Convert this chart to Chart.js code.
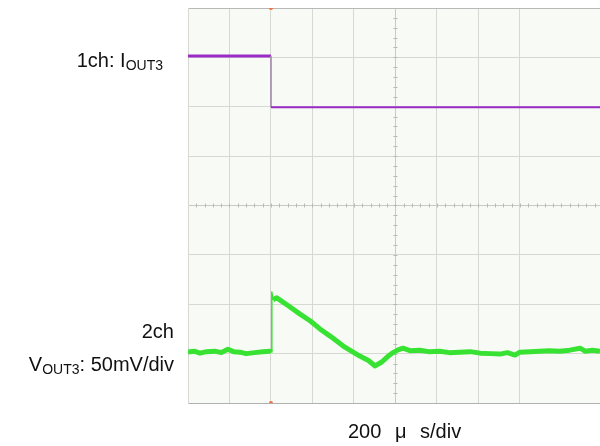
<!DOCTYPE html>
<html>
<head>
<meta charset="utf-8">
<script src="https://cdn.jsdelivr.net/npm/chart.js@4.4.1/dist/chart.umd.min.js"></script>
<style>
  html, body { margin: 0; padding: 0; background: #fff; overflow: hidden; }
  #wrap { position: relative; width: 600px; height: 446px; overflow: hidden; }
  .lbl { position: absolute; font-family: "Liberation Sans", Arial, sans-serif; font-size: 20px; color: #111; white-space: nowrap; line-height: 22px; }
  .lbl sub { font-size: 14px; vertical-align: -3px; line-height: 0; }
</style>
</head>
<body>
<div id="wrap">
  <canvas id="scope" width="604" height="446"></canvas>
  <div class="lbl" style="right:437px; top:49px;">1ch: I<sub>OUT3</sub></div>
  <div class="lbl" style="right:426px; top:320px;">2ch</div>
  <div class="lbl" style="right:426px; top:353px;">V<sub>OUT3</sub>: 50mV/div</div>
  <div class="lbl" style="left:348px; top:420px; word-spacing:8px;">200 μ s/div</div>
</div>
<script>
// time in divisions (200us/div), amplitude in divisions
var ch1X = [0, 2.0, 2.0, 9.93];
var ch1Y = [7.03, 7.03, 5.99, 5.99];

var ch2X = [0, 0.15, 0.29, 0.45, 0.65, 0.8, 0.96, 1.1, 1.25, 1.4, 1.61, 1.8, 1.98, 2.01, 2.02, 2.05, 2.14, 2.40, 2.70, 2.95, 3.18, 3.45, 3.78, 4.14, 4.35, 4.51, 4.67, 4.80, 4.92, 5.05, 5.18, 5.35, 5.59, 5.80, 6.07, 6.30, 6.55, 6.80, 7.04, 7.30, 7.52, 7.70, 7.88, 8.0, 8.25, 8.48, 8.70, 8.96, 9.2, 9.45, 9.57, 9.75, 9.93];
var ch2Y = [1.03, 1.05, 1.01, 1.04, 1.05, 1.02, 1.09, 1.04, 1.03, 1.00, 1.02, 1.04, 1.05, 1.03, 2.25, 2.09, 2.13, 1.98, 1.80, 1.66, 1.50, 1.34, 1.13, 0.95, 0.86, 0.75, 0.83, 0.93, 1.01, 1.07, 1.11, 1.06, 1.07, 1.04, 1.05, 1.02, 1.03, 1.04, 1.01, 1.00, 0.99, 1.02, 0.97, 1.03, 1.04, 1.05, 1.06, 1.05, 1.07, 1.11, 1.05, 1.07, 1.05];

var trigX = [2.0, 2.0];
var trigY = [8, 0];

function toPoints(xs, ys){
    var pts = [];
    for(var i=0; i<xs.length; i++){
        pts.push({x: xs[i], y: ys[i]});
    }
    return pts;
}

var screenBg = {
    id: "screenBg",
    beforeDraw: function(chart){
        var a = chart.chartArea;
        var ctx = chart.ctx;
        ctx.save();
        ctx.fillStyle = "#f8fbf5";
        ctx.fillRect(a.left, a.top, a.right - a.left, a.bottom - a.top);
        ctx.restore();
    },
    // small tick marks on the centre cross, every 0.2 div
    beforeDatasetsDraw: function(chart){
        var xs = chart.scales.x, ys = chart.scales.y;
        var ctx = chart.ctx;
        var cx = xs.getPixelForValue(5), cy = ys.getPixelForValue(4);
        ctx.save();
        ctx.strokeStyle = "#b8bab4";
        ctx.lineWidth = 1;
        ctx.beginPath();
        for(var v=0.2; v<8; v+=0.2){
            var py = Math.round(ys.getPixelForValue(v)) + 0.5;
            ctx.moveTo(cx - 2, py); ctx.lineTo(cx + 2, py);
        }
        for(var h=0.2; h<10; h+=0.2){
            var px = Math.round(xs.getPixelForValue(h)) + 0.5;
            ctx.moveTo(px, cy - 2); ctx.lineTo(px, cy + 2);
        }
        ctx.stroke();
        ctx.restore();
    }
};

new Chart(document.getElementById("scope"), {
    type: "scatter",
    data: {
        datasets: [
            {
                label: "2ch",
                data: toPoints(ch2X, ch2Y),
                showLine: true,
                borderColor: "#38e232",
                borderWidth: 5,
                pointRadius: 0,
                tension: 0,
                borderJoinStyle: "round",
                segment: {
                    borderWidth: function(ctx){ return (ctx.p0DataIndex == 13 || ctx.p0DataIndex == 14) ? 1.5 : 5; }
                }
            },
            {
                label: "1ch",
                data: toPoints(ch1X, ch1Y),
                showLine: true,
                borderColor: "#9a2cc6",
                borderWidth: 2,
                pointRadius: 0,
                tension: 0,
                segment: {
                    borderWidth: function(ctx){ return ctx.p0DataIndex == 0 ? 3 : (ctx.p0DataIndex == 1 ? 1 : 2); },
                    borderColor: function(ctx){ return ctx.p0DataIndex == 1 ? "#a890b0" : "#9a2cc6"; }
                }
            },
            {
                label: "trig",
                data: toPoints(trigX, trigY),
                showLine: false,
                pointRadius: 2,
                pointBackgroundColor: "#f07040",
                pointBorderWidth: 0
            }
        ]
    },
    options: {
        responsive: false,
        animation: false,
        layout: {
            padding: {left: 188, top: 8, right: 0, bottom: 43}
        },
        plugins: {
            legend: {display: false},
            tooltip: {enabled: false}
        },
        scales: {
            x: {
                type: "linear",
                min: 0,
                max: 9.93,
                ticks: {display: false, stepSize: 1},
                border: {display: true, color: "#b0b0b0"},
                grid: {
                    drawTicks: false,
                    color: function(ctx){ return ctx.tick && ctx.tick.value == 5 ? "#c8cac4" : "#d6d8d2"; }
                }
            },
            y: {
                type: "linear",
                min: 0,
                max: 8,
                ticks: {display: false, stepSize: 1},
                border: {display: true, color: "#d6d8d2"},
                grid: {
                    drawTicks: false,
                    color: function(ctx){
                        if(ctx.tick && ctx.tick.value == 8) return "#b8b8b8";
                        if(ctx.tick && ctx.tick.value == 0) return "#b0b0b0";
                        return ctx.tick && ctx.tick.value == 4 ? "#c8cac4" : "#d6d8d2";
                    }
                }
            }
        }
    },
    plugins: [screenBg]
});
</script>
</body>
</html>
